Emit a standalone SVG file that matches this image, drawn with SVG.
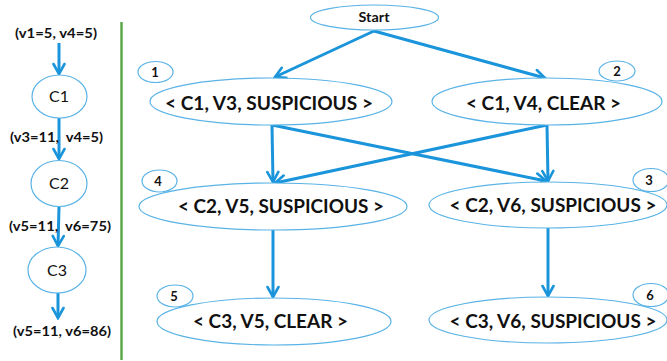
<svg xmlns="http://www.w3.org/2000/svg" width="667" height="361" viewBox="0 0 667 361">
<defs>
<marker id="ah" viewBox="0 0 14 14" refX="12" refY="7" markerWidth="14" markerHeight="14" markerUnits="userSpaceOnUse" orient="auto">
<path d="M2,1.5 L12,7 L2,12.5" fill="none" stroke="#1a94da" stroke-width="2.6" stroke-linecap="round" stroke-linejoin="miter"/>
</marker>
<style>
.e{fill:#fff;stroke:#5ab3e6;stroke-width:1.2}
.n{fill:none;stroke:#5ab3e6;stroke-width:1.2}
.c{fill:none;stroke:#1a94da;stroke-width:3;marker-end:url(#ah)}
.t{font-family:Lato,"Open Sans","Liberation Sans",sans-serif;font-weight:bold;fill:#111;text-anchor:middle;white-space:pre}
.big{font-size:19px}
.sm{font-size:13px}
.lb{font-size:14px}
.cn{font-family:Lato,"Open Sans","Liberation Sans",sans-serif;font-size:16px;fill:#111;text-anchor:middle}
</style>
</defs>
<rect width="667" height="361" fill="#fff"/>
<line x1="121.5" y1="22" x2="121.5" y2="360" stroke="#5ba84a" stroke-width="2.5"/>

<g id="connectors">
<line class="c" x1="59" y1="43" x2="59" y2="74"/>
<line class="c" x1="59" y1="118" x2="59" y2="159"/>
<line class="c" x1="59" y1="207" x2="58" y2="246"/>
<line class="c" x1="58" y1="293" x2="58" y2="318"/>
<line class="c" x1="374" y1="31" x2="275" y2="77"/>
<line class="c" x1="374" y1="31" x2="545" y2="78"/>
<line class="c" x1="272" y1="125" x2="273" y2="182"/>
<line class="c" x1="272" y1="125" x2="546" y2="181"/>
<line class="c" x1="547" y1="125" x2="275" y2="183"/>
<line class="c" x1="547" y1="125" x2="548" y2="181"/>
<line class="c" x1="273" y1="230" x2="273" y2="297"/>
<line class="c" x1="548" y1="228" x2="548" y2="296"/>
</g>

<g id="lbl-in"><text class="t lb" x="56" y="38" textLength="82" lengthAdjust="spacingAndGlyphs">(v1=5, v4=5)</text></g>
<g id="C1"><ellipse class="e" cx="59.5" cy="96.5" rx="27.5" ry="21.5"/><text class="cn" x="59" y="102">C1</text></g>
<g id="lbl-c1"><text class="t lb" x="56.5" y="142" textLength="93" lengthAdjust="spacingAndGlyphs" xml:space="preserve">(v3=11,  v4=5)</text></g>
<g id="C2"><ellipse class="e" cx="59" cy="183.5" rx="28" ry="23"/><text class="cn" x="59" y="189">C2</text></g>
<g id="lbl-c2"><text class="t lb" x="60" y="231" textLength="102" lengthAdjust="spacingAndGlyphs" xml:space="preserve">(v5=11,  v6=75)</text></g>
<g id="C3"><ellipse class="e" cx="57" cy="270" rx="29" ry="23"/><text class="cn" x="57" y="276">C3</text></g>
<g id="lbl-out"><text class="t lb" x="62" y="336" textLength="98" lengthAdjust="spacingAndGlyphs">(v5=11, v6=86)</text></g>

<g id="start"><ellipse class="e" cx="374.5" cy="17.5" rx="64" ry="12.5"/><text class="t sm" x="374" y="22" textLength="31" lengthAdjust="spacingAndGlyphs">Start</text></g>

<g id="node1">
<ellipse class="e" cx="271" cy="101.5" rx="121" ry="23.5"/>
<text class="t big" x="269" y="110" textLength="208" lengthAdjust="spacingAndGlyphs">&lt; C1, V3, SUSPICIOUS &gt;</text>
<ellipse class="n" cx="155.5" cy="72" rx="17.5" ry="10.5"/>
<text class="t sm" x="155" y="77">1</text>
</g>
<g id="node2">
<ellipse class="e" cx="547" cy="101.5" rx="115" ry="23.5"/>
<text class="t big" x="543.5" y="110" textLength="155" lengthAdjust="spacingAndGlyphs">&lt; C1, V4, CLEAR &gt;</text>
<ellipse class="n" cx="617" cy="71" rx="18" ry="10"/>
<text class="t sm" x="617" y="76">2</text>
</g>
<g id="node4">
<ellipse class="e" cx="273" cy="206.5" rx="134" ry="23.5"/>
<text class="t big" x="281" y="213" textLength="206" lengthAdjust="spacingAndGlyphs">&lt; C2, V5, SUSPICIOUS &gt;</text>
<ellipse class="n" cx="159.5" cy="181" rx="17.5" ry="11"/>
<text class="t sm" x="158" y="186">4</text>
</g>
<g id="node3">
<ellipse class="e" cx="548" cy="205" rx="119" ry="23"/>
<text class="t big" x="553" y="212" textLength="207" lengthAdjust="spacingAndGlyphs">&lt; C2, V6, SUSPICIOUS &gt;</text>
<ellipse class="n" cx="651" cy="180" rx="18" ry="11.5"/>
<text class="t sm" x="649" y="185">3</text>
</g>
<g id="node5">
<ellipse class="e" cx="274" cy="321.5" rx="117" ry="23.5"/>
<text class="t big" x="270.5" y="328" textLength="155" lengthAdjust="spacingAndGlyphs">&lt; C3, V5, CLEAR &gt;</text>
<ellipse class="n" cx="175" cy="296" rx="18" ry="11"/>
<text class="t sm" x="174" y="301">5</text>
</g>
<g id="node6">
<ellipse class="e" cx="548" cy="320" rx="119" ry="23"/>
<text class="t big" x="553" y="328" textLength="207" lengthAdjust="spacingAndGlyphs">&lt; C3, V6, SUSPICIOUS &gt;</text>
<ellipse class="n" cx="651" cy="295" rx="18" ry="11.5"/>
<text class="t sm" x="650" y="300">6</text>
</g>
</svg>
